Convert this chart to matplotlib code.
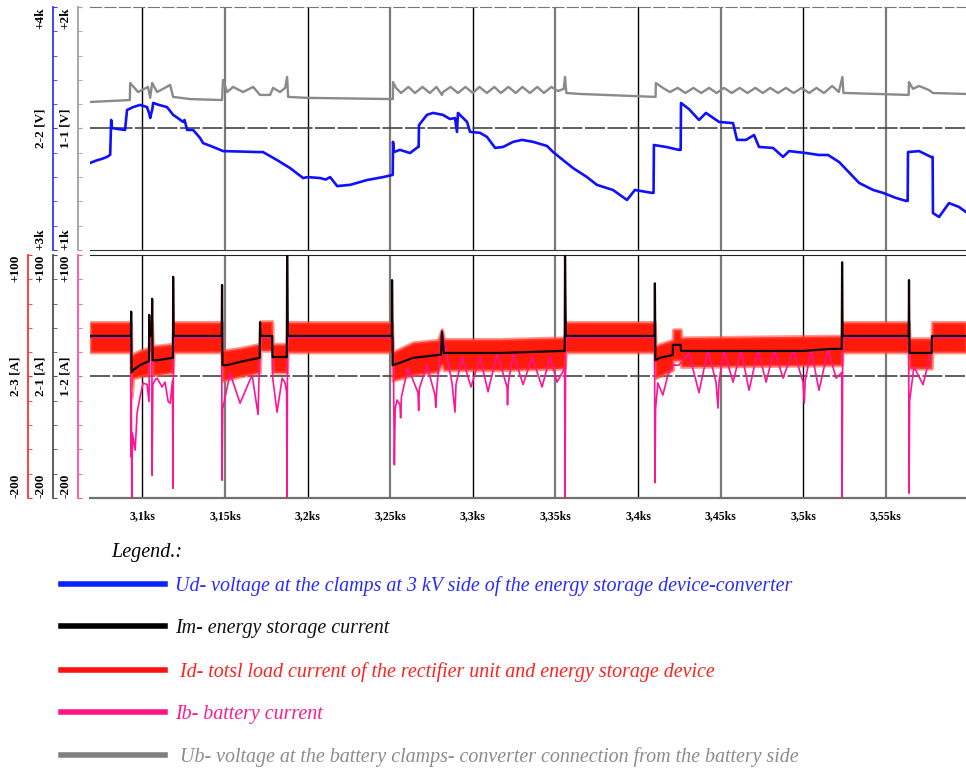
import numpy as np
import matplotlib.pyplot as plt
from matplotlib.lines import Line2D

plt.rcParams['font.family'] = 'Liberation Serif'

# time in seconds
t_ud = [3068.3, 3072.0, 3075.5, 3078.6, 3080.5, 3081.1, 3081.6, 3085.0, 3089.5, 3090.7,
        3094.4, 3098.6, 3102.8, 3104.2, 3104.7, 3106.0, 3106.5, 3110.0, 3114.9, 3118.6,
        3121.0, 3124.6, 3125.5, 3127.1, 3130.7, 3134.9, 3136.7, 3142.8, 3148.8, 3160.0,
        3169.4, 3173.0, 3181.5, 3189.4, 3197.3, 3200.0, 3207.6, 3211.0, 3213.6, 3217.9,
        3225.7, 3236.0, 3245.7, 3251.5, 3251.7, 3252.2, 3255.9, 3262.0, 3266.8, 3267.2,
        3267.4, 3272.2, 3275.9, 3281.9, 3286.2, 3289.2, 3290.4, 3291.0, 3296.5, 3298.3,
        3304.4, 3308.6, 3313.5, 3318.3, 3324.4, 3329.8, 3336.5, 3344.9, 3348.6, 3354.6,
        3360.7, 3369.1, 3375.1, 3384.8, 3393.3, 3398.1, 3408.4, 3409.4, 3409.6, 3417.0,
        3424.7, 3425.8, 3426.0, 3430.8, 3436.9, 3441.1, 3449.0, 3457.5, 3459.9, 3465.3,
        3470.2, 3473.2, 3481.7, 3487.8, 3491.4, 3501.7, 3509.5, 3515.0, 3521.7, 3533.8,
        3542.3, 3548.3, 3556.2, 3562.2, 3563.2, 3563.4, 3570.1, 3577.3, 3578.3, 3578.5,
        3582.2, 3588.2, 3594.3, 3598.5]
ud = [3358, 3368, 3375, 3383, 3392, 3535, 3502, 3498, 3494, 3576,
      3588, 3597, 3588, 3560, 3543, 3580, 3605, 3597, 3588, 3556,
      3545, 3527, 3535, 3494, 3494, 3461, 3440, 3424, 3407, 3405,
      3403, 3403, 3370, 3337, 3296, 3300, 3296, 3290, 3300, 3263,
      3268, 3288, 3300, 3309, 3445, 3403, 3412, 3399, 3424, 3424,
      3514, 3556, 3564, 3556, 3539, 3543, 3486, 3564, 3527, 3486,
      3482, 3465, 3420, 3424, 3445, 3453, 3445, 3428, 3403, 3370,
      3337, 3300, 3268, 3247, 3206, 3247, 3235, 3235, 3432, 3424,
      3412, 3412, 3605, 3580, 3535, 3564, 3527, 3522, 3453, 3453,
      3473, 3424, 3420, 3383, 3407, 3399, 3391, 3391, 3362, 3276,
      3247, 3235, 3214, 3202, 3202, 3403, 3407, 3383, 3383, 3152,
      3136, 3193, 3177, 3156]

t_ub = [3068.3, 3092.4, 3092.6, 3097.4, 3103.4, 3104.7, 3105.9, 3108.9, 3116.8, 3118.6,
        3128.9, 3148.2, 3148.8, 3151.3, 3154.9, 3160.9, 3167.0, 3171.2, 3177.3, 3179.1,
        3183.3, 3186.4, 3187.6, 3188.2, 3199.7, 3251.6, 3251.7, 3253.5, 3256.5, 3261.0,
        3265.0, 3269.5, 3274.0, 3278.0, 3281.3, 3282.0, 3286.5, 3291.0, 3295.5, 3300.0,
        3304.0, 3308.5, 3313.0, 3317.0, 3321.5, 3326.0, 3330.0, 3334.5, 3339.0, 3343.0,
        3347.5, 3351.5, 3355.0, 3355.8, 3356.6, 3364.9, 3410.6, 3410.8, 3415.0, 3419.3,
        3424.0, 3428.7, 3433.5, 3438.2, 3443.0, 3447.5, 3452.0, 3456.7, 3461.5, 3466.2,
        3471.0, 3475.5, 3480.0, 3484.7, 3489.5, 3494.2, 3499.0, 3503.5, 3508.0, 3512.5,
        3517.5, 3521.5, 3523.7, 3524.3, 3526.0, 3563.8, 3564.0, 3566.4, 3570.1, 3576.1,
        3578.5, 3598.5]
ub = [1609, 1617, 1687, 1650, 1671, 1626, 1687, 1650, 1679, 1630,
      1621, 1617, 1700, 1650, 1671, 1650, 1671, 1638, 1638, 1667,
      1650, 1667, 1712, 1630, 1626, 1621, 1691, 1667, 1646, 1671,
      1646, 1671, 1646, 1671, 1638, 1650, 1671, 1646, 1671, 1646,
      1671, 1646, 1671, 1646, 1671, 1646, 1671, 1646, 1671, 1646,
      1671, 1654, 1663, 1712, 1646, 1642, 1630, 1687, 1667, 1650,
      1667, 1646, 1667, 1646, 1667, 1646, 1667, 1646, 1667, 1646,
      1667, 1646, 1667, 1646, 1667, 1646, 1667, 1646, 1667, 1646,
      1675, 1650, 1712, 1646, 1646, 1638, 1691, 1663, 1675, 1658,
      1646, 1642]

t_im = [3068.3, 3093.0, 3093.2, 3093.5, 3094.4, 3098.6, 3102.8, 3104.0, 3104.1, 3104.4,
        3105.7, 3105.9, 3106.2, 3108.9, 3118.0, 3118.5, 3118.6, 3118.9, 3148.0, 3148.2,
        3148.5, 3151.3, 3159.0, 3171.0, 3171.2, 3171.5, 3178.5, 3178.8, 3187.4, 3187.6,
        3188.0, 3251.0, 3251.1, 3251.5, 3256.0, 3263.8, 3278.9, 3280.8, 3281.3, 3282.5,
        3286.2, 3316.5, 3354.0, 3355.6, 3355.8, 3356.3, 3410.0, 3410.2, 3410.5, 3413.2,
        3421.0, 3421.1, 3425.8, 3426.0, 3500.0, 3516.2, 3523.3, 3523.5, 3523.8, 3563.8,
        3564.0, 3564.3, 3577.7, 3577.9, 3598.5]
im = [0, 0, 30, -45, -42, -36, -32, -31, 26, 0,
      0, 46, -30, -30, -27, -27, 73, 0, 0, 63,
      -36, -36, -32, -27, 17, 0, 0, -26, -26, 100,
      0, 0, 69, -36, -33, -27, -23.5, -23, 5, -21,
      -21, -21, -18.5, -18.5, 100, 0, 0, 65, -30, -27,
      -23.5, -11, -11, -18.5, -18.5, -16, -16, 91, 0, 0,
      69, -21, -21, 0, 0]

t_id = [3068.3, 3093.0, 3093.3, 3094.4, 3098.6, 3104.0, 3104.3, 3105.7, 3106.2, 3108.9,
        3118.3, 3118.8, 3148.0, 3148.5, 3159.0, 3171.0, 3171.4, 3178.5, 3178.9, 3187.4,
        3187.8, 3251.0, 3251.5, 3263.8, 3278.9, 3281.3, 3282.5, 3316.5, 3355.6, 3356.2,
        3410.0, 3410.5, 3421.0, 3421.3, 3425.8, 3426.2, 3516.2, 3523.3, 3523.7, 3563.8,
        3564.3, 3577.7, 3578.0, 3598.5]
id_hi = [17, 17, -25, -22, -18, -15, 17, 17, -12, -12,
         -10, 17, 17, -18, -15, -10, 18, 18, -10, -10,
         17, 17, -20, -8, -5, 8, -4, -4, -2, 17,
         17, -12, -5, 8, 8, -2, 0, 0, 17, 17,
         -3, -3, 17, 17]
id_lo = [-20, -20, -75, -52, -50, -48, -20, -20, -48, -48,
         -45, -20, -20, -55, -50, -45, -18, -18, -45, -45,
         -20, -20, -55, -48, -44, -35, -42, -42, -40, -20,
         -20, -52, -42, -30, -30, -38, -36, -36, -20, -20,
         -40, -40, -20, -20]

t_ib = [3068.3, 3092.9, 3093.0, 3093.3, 3093.6, 3094.0, 3095.6, 3096.8, 3098.6, 3100.4,
        3102.8, 3104.0, 3104.3, 3105.7, 3105.9, 3106.3, 3107.7, 3108.9, 3111.9, 3113.7,
        3115.6, 3116.8, 3118.2, 3118.5, 3118.8, 3148.0, 3148.2, 3148.6, 3150.1, 3153.1,
        3159.1, 3166.4, 3170.0, 3171.2, 3178.5, 3178.8, 3181.5, 3184.6, 3186.4, 3187.3,
        3187.5, 3187.9, 3251.8, 3252.5, 3253.0, 3254.1, 3255.9, 3256.3, 3256.8, 3260.8,
        3266.8, 3267.2, 3267.6, 3272.2, 3277.1, 3277.6, 3278.2, 3281.3, 3287.4, 3289.2,
        3289.8, 3293.5, 3298.9, 3304.4, 3309.2, 3314.7, 3320.7, 3321.0, 3321.4, 3324.4,
        3330.4, 3335.9, 3341.9, 3346.7, 3351.0, 3355.6, 3355.8, 3356.2, 3410.0, 3410.2,
        3410.6, 3412.0, 3415.0, 3418.1, 3421.1, 3424.7, 3430.8, 3436.9, 3442.3, 3447.2,
        3448.4, 3449.0, 3451.9, 3457.5, 3462.3, 3467.2, 3472.6, 3477.5, 3482.4, 3487.8,
        3493.9, 3499.9, 3500.6, 3501.2, 3504.8, 3509.5, 3515.0, 3519.9, 3523.3, 3523.5,
        3523.9, 3563.8, 3564.0, 3564.4, 3567.0, 3572.5, 3576.1, 3577.9, 3598.5]
ib = [-2, -2, -149, -70, -200, -120, -141, -95, -75, -58,
      -60, -81, -2, -2, -172, -60, -54, -52, -63, -57,
      -81, -83, -55, -188, -2, -2, -178, -90, -75, -46,
      -83, -48, -97, -2, -2, -51, -94, -52, -58, -70,
      -200, -2, -2, -159, -90, -79, -85, -101, -75, -39,
      -70, -92, -65, -36, -73, -88, -65, 7, -58, -94,
      -60, -26, -63, -26, -69, -21, -63, -85, -60, -21,
      -60, -26, -63, -26, -57, -40, -200, -2, -2, -181,
      -90, -58, -73, -48, -36, -36, -21, -70, -17, -57,
      -89, -57, -17, -57, -17, -67, -17, -57, -17, -52,
      -17, -57, -83, -55, -17, -67, -17, -52, -45, -200,
      -2, -2, -194, -80, -38, -60, -30, -2, -2]

xticks = [3100, 3150, 3200, 3250, 3300, 3350, 3400, 3450, 3500, 3550]
xtick_labels = ['3,1ks', '3,15ks', '3,2ks', '3,25ks', '3,3ks',
                '3,35ks', '3,4ks', '3,45ks', '3,5ks', '3,55ks']

legend_labels = ['Ud- voltage at the clamps at 3 kV side of the energy storage device-converter',
                 'Im- energy storage current',
                 ' Id- totsl load current of the rectifier unit and energy storage device',
                 'Ib- battery current',
                 ' Ub- voltage at the battery clamps- converter connection from the battery side']
legend_line_colors = ['#0a22ff', '#000000', '#ff1010', '#ff1487', '#808080']
legend_text_colors = ['#2a2aff', '#111111', '#ff2020', '#ff1a8c', '#8c8c8c']

xlim = (3068.3, 3598.5)


def left_scale(ax, lo, hi, color, offset, labels):
    ax.set_ylim(lo, hi)
    ax.spines['left'].set_visible(True)
    ax.spines['left'].set_position(('outward', offset))
    ax.spines['left'].set_color(color)
    ax.spines['left'].set_linewidth(1.3)
    ax.yaxis.set_ticks_position('left')
    ax.yaxis.set_label_position('left')
    ax.set_yticks([lo, (lo + hi) / 2, hi])
    ax.set_yticklabels(labels)
    ax.set_yticks(np.linspace(lo, hi, 11), minor=True)
    ax.tick_params(axis='y', which='both', direction='in', length=3,
                   color=color, pad=5, labelsize=9.5)
    for lab, va in zip(ax.get_yticklabels(), ['bottom', 'center', 'top']):
        lab.set_rotation(90)
        lab.set_va(va)
        lab.set_fontweight('bold')


def hide_other_spines(ax):
    for s in ['top', 'bottom', 'right']:
        ax.spines[s].set_visible(False)


def grid(ax, mid):
    for i, x in enumerate(xticks):
        if i % 2 == 0:
            ax.axvline(x, color='black', lw=1, zorder=0)
        else:
            ax.axvline(x, color='#7a7a7a', lw=1.6, zorder=0)
    ax.axhline(mid, color='#444444', lw=1.2, dashes=(12, 1.5), zorder=0)


fig = plt.figure(figsize=(9.66, 7.74), dpi=100)

# top panel: voltages
ax_u = fig.add_axes([0.0932, 0.677, 0.9068, 0.314])
ax_u.set_xlim(*xlim)
ax_u.set_xticks([])
ax_u.spines['right'].set_visible(False)
ax_u.spines['top'].set_color('#777777')
ax_u.spines['top'].set_linestyle((0, (10, 3)))
ax_u.spines['bottom'].set_color('#333333')
left_scale(ax_u, 3000, 4000, '#3535ff', 26.6, ['+3k', '2-2 [V]', '+4k'])
grid(ax_u, 3500)
ax_u.plot(t_ud, ud, color='#1010ff', lw=1.9, zorder=3)

ax_g = ax_u.twinx()
hide_other_spines(ax_g)
left_scale(ax_g, 1000, 2000, '#a0a0a0', 8.6, ['+1k', '1-1 [V]', '+2k'])
ax_g.plot(t_ub, ub, color='#8a8a8a', lw=1.7)

# bottom panel: currents
ax_d = fig.add_axes([0.0932, 0.3566, 0.9068, 0.314])
ax_d.set_xlim(*xlim)
ax_d.spines['right'].set_visible(False)
ax_d.spines['top'].set_color('#222222')
ax_d.spines['bottom'].set_color('#707070')
ax_d.spines['bottom'].set_linewidth(1.6)
left_scale(ax_d, -200, 100, '#ff3030', 44.6, ['-200', '2-3 [A]', '+100'])
grid(ax_d, -50)
ax_d.fill_between(t_id, id_lo, id_hi, facecolor='#ff1a0a',
                  edgecolor=(1.0, 0.3, 0.25, 0.6), lw=2.5, zorder=2)
ax_d.set_xticks(xticks)
ax_d.set_xticklabels(xtick_labels, fontweight='bold', fontsize=8.5)
ax_d.tick_params(axis='x', length=0, pad=9)

ax_b = ax_d.twinx()
hide_other_spines(ax_b)
left_scale(ax_b, -200, 100, '#ff4fa8', 8.6, ['-200', '1-2 [A]', '+100'])
ax_b.plot(t_ib, ib, color='#ff1493', lw=1.2)

ax_m = ax_d.twinx()
hide_other_spines(ax_m)
left_scale(ax_m, -200, 100, '#505050', 26.6, ['-200', '2-1 [A]', '+100'])
ax_m.plot(t_im, im, color='#120404', lw=1.6)

# legend
fig.text(111 / 966, 1 - 552 / 774, 'Legend.:', style='italic', fontsize=14.5, va='center')
handles = [Line2D([], [], color=c, lw=4) for c in legend_line_colors]
fig.legend(handles, legend_labels, loc='upper left', bbox_to_anchor=(51 / 966, 1 - 566 / 774),
           frameon=False, handlelength=5.2, handletextpad=0.5, labelspacing=1.17,
           borderpad=0, prop={'family': 'Liberation Serif', 'style': 'italic', 'size': 14.4},
           labelcolor=legend_text_colors)

fig.savefig('out.png', dpi=100)
